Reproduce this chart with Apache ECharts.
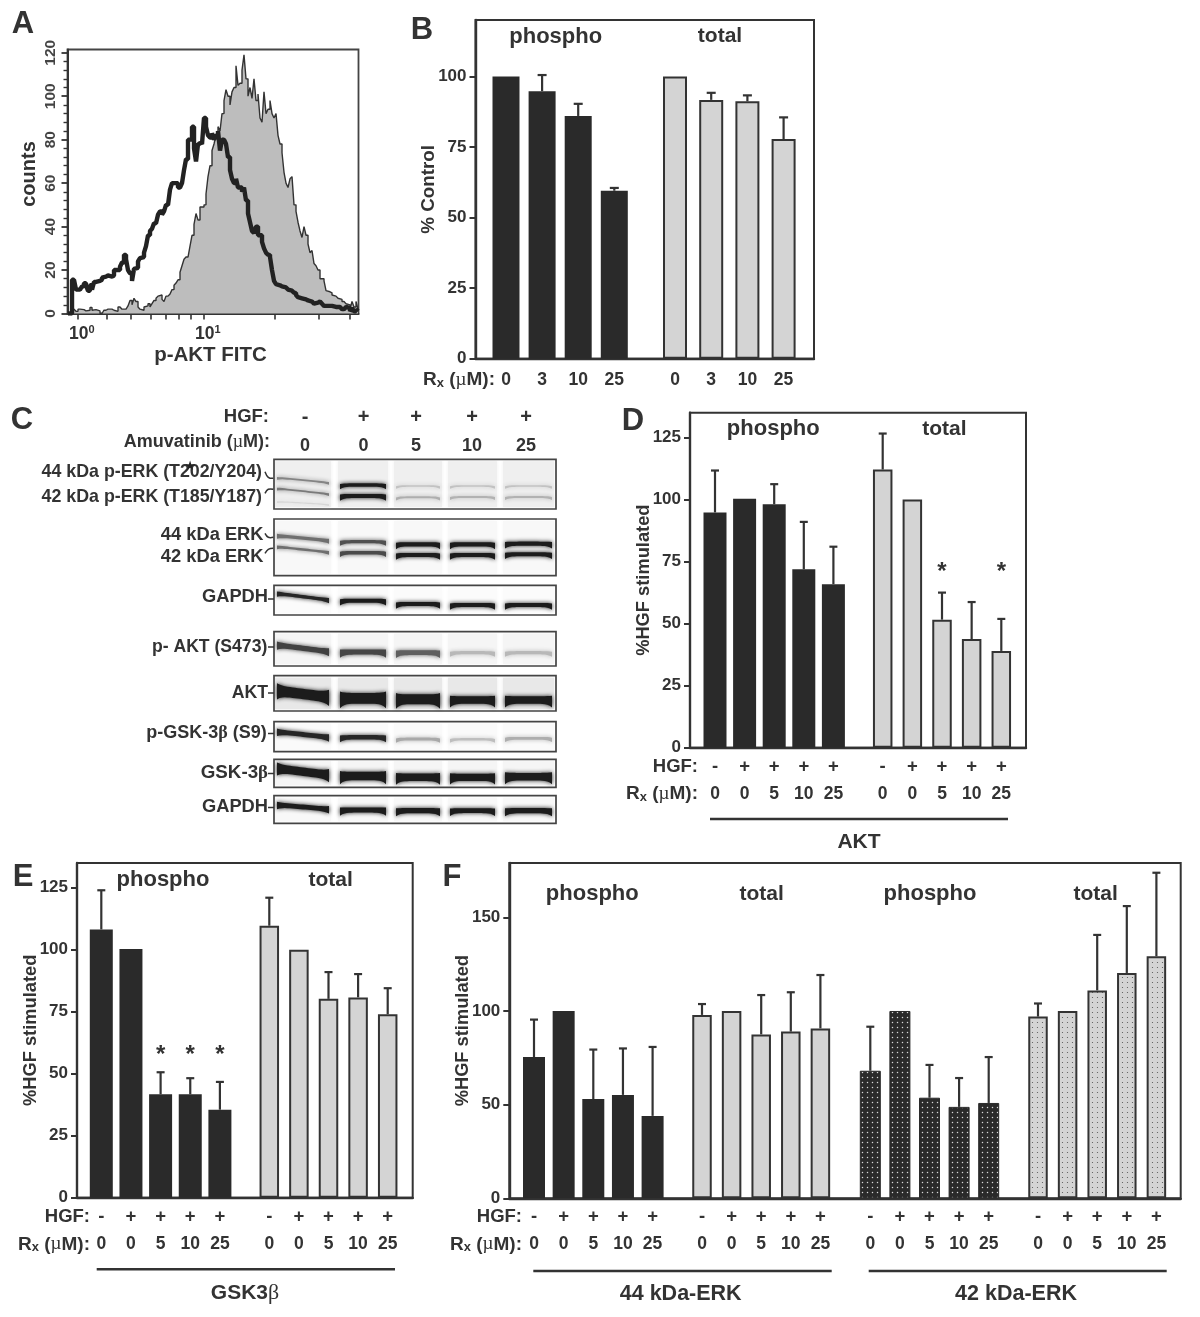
<!DOCTYPE html>
<html><head><meta charset="utf-8">
<script src="https://cdn.jsdelivr.net/npm/echarts@6/dist/echarts.min.js"></script>
<style>html,body{margin:0;padding:0;background:#fff}#main{width:1200px;height:1317px}</style>
</head><body><div id="main"></div>
<script>
// ---------- Panel A: histogram counts ----------
const isotypeCounts = [0,0,2,1.5,1,2,1.2,1.8,1.2,1.5,
1.5,2.8,1.5,1.8,1,1.2,0,0.3,1.5,2,
1.5,2,1.5,0.8,1,3,2.5,2,2,2.3,
3.5,6,4,7,5.5,3,2,1.5,3,3.5,
4.5,3,4.5,6,7,8,8.5,6.5,5.5,8,
7.5,9,11,13,14,15.5,19,22,25,26,
26,31,36,41,46,43,49,49,50,55,
63,68,75,78,82,86,84,92,98,103,
100,96,102,104,114,105,106,112,119,108,
100,104,99,108,98,101,90,88,102,92,
94,98,92,90,92,82,78,74,65,60,
58,62,63,50,47,42,38,35,40,36,
32,28,29,23,22,20,16,16,15,10.5,
10,9.5,8.5,8,8,7,6.5,5.5,5,4.5,
4,2,5.5,3,5.5,2];
const treatedCounts = [0,0,15.5,15,11,11,11,12.5,14,13,
10.5,13,11,14.5,14.5,15,15.5,16.5,17,17.5,
17.5,17,17.5,20,20,20,21.5,23.5,27,25,
20,18.5,15,20.5,21,24,25.5,26,28,31,
36,38,39,41.5,42,45.5,47,45.5,47,50,
50,57,60,60.5,60,58,58,60,66,71,
80,80,86,76,70,78,79,78,90,86,
82,81,83,80,82,84,75,80,80,78,
72,66,62,60,62,58,58,56,58,52,
46,42,38,37,40,36,36,33,30,28,
27,26,20,15,13.5,13,12.5,13,12,12,
11,10.5,10,9.5,8.5,7.5,7,7.5,6.5,6,
6.5,5.5,5,4.5,5,5.5,5.5,4.5,3.5,3.5,
3,3.5,3.5,3,3.5,3,3,2,2,3,
2.5,1,2.5,1,2,1];
const countTicks = [0,20,40,60,80,100,120];
const countMinorTicks = [4,8,12,16,24,28,32,36,44,48,52,56,64,68,72,76,84,88,92,96,104,108,112,116];
const fitcLabels = [1,10];
const fitcTicks = [1,1.71,2.65,3.82,5,6.4,8,10,37,82,144];

// ---------- Panel B ----------
const bDose = ['0','3','10','25'];
const bPhospho = [100,94.8,86,59.5];
const bPhosphoTop = [null,100.5,90.3,60.5];
const bTotal = [100,91.7,91.2,77.8];
const bTotalTop = [null,94.2,93.3,85.5];
const bTicks = [0,25,50,75,100];

// ---------- Shared category rows for D, E, F ----------
const hgfRow = ['-','+','+','+','+'];
const doseRow = ['0','0','5','10','25'];
const hgfTicks = [0,25,50,75,100,125];
const erkTicks = [0,50,100,150];

// ---------- Panel D (AKT) ----------
const dPhospho = [94.8,100.3,98.1,71.9,65.9];
const dPhosphoTop = [111.7,null,106.2,91,81];
const dTotal = [112.1,100,51.6,43.8,39];
const dTotalTop = [126.6,null,62.5,58.7,51.9];
const dStars = [null,null,72.5,null,72.5];

// ---------- Panel E (GSK3b) ----------
const ePhospho = [108.2,100.3,41.7,41.7,35.5];
const ePhosphoTop = [124,null,50.6,48.2,46.7];
const eTotal = [109.7,100,80.2,80.8,74];
const eTotalTop = [121,null,91,90.2,84.5];
const eStars = [null,null,59.6,59.6,59.6];

// ---------- Panel F (ERK) ----------
const f44Phospho = [75.4,100,53,55.2,44];
const f44PhosphoTop = [95.4,null,79.4,80,80.8];
const f44Total = [97.9,100,87.5,89,90.7];
const f44TotalTop = [103.7,null,108.5,110,119.2];
const f42Phospho = [68.1,100,53.7,48.8,50.9];
const f42PhosphoTop = [91.6,null,71.2,64.2,75.4];
const f42Total = [97,100,111,120.3,129.2];
const f42TotalTop = [104,null,140.6,156,173.8];

// ---------- Panel C: band intensities per lane (0..1) ----------
const pErk44Level = [0.5,1,0.2,0.2,0.2];
const pErk42Level = [0.55,1,0.3,0.28,0.28];
const pErkFaint = [0.1,0,0,0,0];
const erk44Level = [0.6,0.75,1,1,1];
const erk42Level = [0.6,0.78,1,1,1];
const gapdhLevel = [0.95,1,1,1,1];
const pAktLevel = [0.82,0.8,0.68,0.25,0.25];
const aktLevel = [1,1,1,1,1];
const pGskLevel = [0.95,0.95,0.32,0.22,0.3];
const gskLevel = [1,1,1,1,1];
const gapdh2Level = [1,1,1,1,1];
const cHgf = ['-','+','+','+','+'];
const cDose = ['0','0','5','10','25'];

// ---------- Look and layout ----------
const INK = '#333';
const DARK = '#2a2a2a';
const LIGHT = '#d4d4d4';
const F = '"Liberation Sans"';
const grids = [], xAxes = [], yAxes = [], series = [], gfx = [];

function txt(x, y, text, size, o) {
  o = o || {};
  gfx.push({type:'text', silent:true, x:x, y:y, rotation:o.rot||0, z:50,
    style:{text:text, fontFamily:o.family||F, fontWeight:o.weight||'bold', fontSize:size, fill:o.fill||INK,
      textAlign:o.align||'center', textVerticalAlign:'middle', rich:o.rich}});
}
function rxLabel(x, y, size) {
  const b = {fontFamily:F, fontWeight:'bold', fontSize:size, fill:INK};
  txt(x, y, '{n|R}{s|x}{n| (}{g|µ}{n|M):}', size, {align:'right', rich:{
    n:b,
    s:{fontFamily:F, fontWeight:'bold', fontSize:size*0.68, fill:INK, padding:[7,0,0,0]},
    g:{fontFamily:'"Liberation Serif"', fontSize:size, fill:INK}
  }});
}
function poly(points, w) {
  gfx.push({type:'polyline', silent:true, z:50, shape:{points:points, smooth:0.4},
    style:{stroke:INK, lineWidth:w||1.5, fill:null}});
}
function dotted(bg, dot, r) {
  const c = document.createElement('canvas');
  c.width = 5; c.height = 5;
  const g = c.getContext('2d');
  g.fillStyle = bg; g.fillRect(0,0,5,5);
  g.fillStyle = dot; g.beginPath(); g.arc(2.5,2.5,r,0,7); g.fill();
  return {image:c, repeat:'repeat'};
}
const tStyle = {color:INK, width:2};

function errorSeries(xi, yi, values, tops, capHalf) {
  const rows = [];
  values.forEach(function(v,i){ if (tops[i] != null) rows.push([i,v,tops[i]]); });
  return {type:'custom', xAxisIndex:xi, yAxisIndex:yi, data:rows, z:4, silent:true, clip:false,
    encode:{x:0,y:[1,2]},
    renderItem:function(p,api){
      const a = api.coord([api.value(0),api.value(1)]), b = api.coord([api.value(0),api.value(2)]);
      const st = {stroke:INK, lineWidth:2.2};
      return {type:'group', children:[
        {type:'line', shape:{x1:a[0],y1:a[1],x2:b[0],y2:b[1]}, style:st},
        {type:'line', shape:{x1:b[0]-capHalf,y1:b[1],x2:b[0]+capHalf,y2:b[1]}, style:st}
      ]};
    }};
}
function starSeries(xi, yi, stars) {
  const rows = [];
  stars.forEach(function(v,i){ if (v != null) rows.push([i,v]); });
  return {type:'custom', xAxisIndex:xi, yAxisIndex:yi, data:rows, z:5, silent:true, clip:false,
    encode:{x:0,y:1},
    renderItem:function(p,api){
      const a = api.coord([api.value(0),api.value(1)]);
      return {type:'text', style:{text:'*', x:a[0], y:a[1]+5, fontFamily:F, fontWeight:'bold', fontSize:24, fill:INK, textAlign:'center', textVerticalAlign:'middle'}};
    }};
}
function panel(c) {
  const g = grids.length;
  grids.push({left:c.l, top:c.t, width:c.r-c.l, height:c.b-c.t, show:true, borderColor:INK, borderWidth:2, backgroundColor:'transparent'});
  xAxes.push({gridIndex:g, type:'value', min:0, max:1, axisLabel:{show:false}, axisTick:{show:false}, splitLine:{show:false},
    axisLine:{show:true, onZero:false, lineStyle:{color:INK, width:2.4}}});
  yAxes.push({gridIndex:g, type:'value', min:0, max:c.max, name:c.yName, nameLocation:'middle', nameGap:37, nameMoveOverlap:false,
    nameTextStyle:{fontFamily:F, fontWeight:'bold', fontSize:c.nameSize||18.3, color:INK},
    splitLine:{show:false}, axisLine:{show:true, onZero:false, lineStyle:{color:INK, width:2.4}},
    axisTick:{show:true, length:6, customValues:c.ticks, lineStyle:tStyle},
    axisLabel:{customValues:c.ticks, margin:9, fontFamily:F, fontWeight:'bold', fontSize:17, color:INK}});
  c.groups.forEach(function(gr){
    const n = gr.values.length, gi = grids.length;
    const left = gr.c0 - gr.sp/2;
    grids.push({left:left, top:c.t, width:gr.sp*n, height:c.b-c.t, show:false});
    const xi = xAxes.length, yi = yAxes.length;
    const lab = function(margin, size){ return {show:true, interval:0, margin:margin, verticalAlign:'middle', fontFamily:F, fontWeight:'bold', fontSize:size, color:INK}; };
    xAxes.push({gridIndex:gi, type:'category', data:gr.dose, position:'bottom', axisLine:{show:false}, axisTick:{show:false}, axisLabel:lab(c.rxY-c.b,17.5)});
    yAxes.push({gridIndex:gi, type:'value', min:0, max:c.max, show:false, splitLine:{show:false}});
    if (c.hgfY) {
      xAxes.push({gridIndex:gi, type:'category', data:gr.hgf, position:'bottom', axisLine:{show:false}, axisTick:{show:false}, axisLabel:lab(c.hgfY-c.b,18.5)});
    }
    series.push({type:'bar', xAxisIndex:xi, yAxisIndex:yi, data:gr.values, barWidth:gr.barW, silent:true, z:3, itemStyle:gr.style});
    series.push(errorSeries(xi, yi, gr.values, gr.tops, c.cap||4));
    if (gr.stars) series.push(starSeries(xi, yi, gr.stars));
  });
}

const darkStyle = {color:DARK};
const lightStyle = {color:LIGHT, borderColor:INK, borderWidth:2};
const darkDots = {color:dotted(DARK,'#d8d8d8',0.75), borderColor:DARK, borderWidth:1};
const lightDots = {color:dotted(LIGHT,'#555',0.6), borderColor:INK, borderWidth:2};

// ---------- B ----------
panel({l:475.5,t:20,r:814,b:358.7,max:120,ticks:bTicks,yName:'% Control',nameSize:18.8,rxY:380,cap:4.5,groups:[
  {c0:506,sp:36.1,barW:27,values:bPhospho,tops:bPhosphoTop,dose:bDose,style:darkStyle},
  {c0:675,sp:36.2,barW:24,values:bTotal,tops:bTotalTop,dose:bDose,style:lightStyle}]});
// ---------- D ----------
panel({l:690,t:412.7,r:1026,b:747.7,max:135,ticks:hgfTicks,yName:'%HGF stimulated',rxY:794,hgfY:766.7,groups:[
  {c0:715,sp:29.6,barW:23,values:dPhospho,tops:dPhosphoTop,dose:doseRow,hgf:hgfRow,stars:null,style:darkStyle},
  {c0:882.7,sp:29.65,barW:19.5,values:dTotal,tops:dTotalTop,dose:doseRow,hgf:hgfRow,stars:dStars,style:lightStyle}]});
// ---------- E ----------
panel({l:77,t:863,r:412.7,b:1197.7,max:135,ticks:hgfTicks,yName:'%HGF stimulated',rxY:1244.3,hgfY:1216.7,groups:[
  {c0:101.3,sp:29.65,barW:23,values:ePhospho,tops:ePhosphoTop,dose:doseRow,hgf:hgfRow,stars:eStars,style:darkStyle},
  {c0:269.3,sp:29.6,barW:19.5,values:eTotal,tops:eTotalTop,dose:doseRow,hgf:hgfRow,style:lightStyle}]});
// ---------- F ----------
panel({l:509.3,t:863,r:1180.7,b:1198.3,max:179,ticks:erkTicks,yName:'%HGF stimulated',rxY:1244.3,hgfY:1216.7,groups:[
  {c0:534,sp:29.65,barW:22,values:f44Phospho,tops:f44PhosphoTop,dose:doseRow,hgf:hgfRow,style:darkStyle},
  {c0:702,sp:29.6,barW:19.5,values:f44Total,tops:f44TotalTop,dose:doseRow,hgf:hgfRow,style:lightStyle},
  {c0:870.3,sp:29.6,barW:21,values:f42Phospho,tops:f42PhosphoTop,dose:doseRow,hgf:hgfRow,style:darkDots},
  {c0:1038,sp:29.6,barW:19.5,values:f42Total,tops:f42TotalTop,dose:doseRow,hgf:hgfRow,style:lightDots}]});

// ---------- A ----------
(function(){
  const g = grids.length;
  grids.push({left:67.5, top:49.5, width:291, height:264, show:true, borderColor:'#444', borderWidth:1.8});
  const xMin = 0.836, xMax = 170.5, yMax = 121.5;
  const xi = xAxes.length, yi = yAxes.length;
  const bins = isotypeCounts.map(function(_,i){ return Math.pow(10, -0.0738 + i*2/126); });
  xAxes.push({gridIndex:g, type:'log', logBase:10, min:xMin, max:xMax, splitLine:{show:false},
    axisLine:{show:true, onZero:false, lineStyle:{color:INK, width:2}},
    axisTick:{show:true, length:6, customValues:fitcTicks, lineStyle:{color:INK,width:1.6}},
    minorTick:{show:false},
    axisLabel:{customValues:fitcLabels, margin:11, padding:[0,0,0,9], formatter:function(v){ return '{b|10}{s|'+(v>=10?'1':'0')+'}'; },
      rich:{b:{fontFamily:F,fontWeight:'bold',fontSize:17.5,color:INK},
            s:{fontFamily:F,fontWeight:'bold',fontSize:11,color:INK,padding:[0,0,8,0]}}}});
  yAxes.push({gridIndex:g, type:'value', min:0, max:yMax, position:'left', splitLine:{show:false},
    axisLine:{show:true, onZero:false, lineStyle:{color:INK, width:2}},
    axisTick:{show:true, length:6, customValues:countTicks, lineStyle:{color:INK,width:1.8}},
    axisLabel:{customValues:countTicks, rotate:90, margin:9, fontFamily:F, fontWeight:'bold', fontSize:15.5, color:'#444'}});
  yAxes.push({gridIndex:g, type:'value', min:0, max:yMax, position:'left', splitLine:{show:false},
    axisLine:{show:false}, axisLabel:{show:false},
    axisTick:{show:true, length:4, customValues:countMinorTicks, lineStyle:{color:INK,width:1.4}}});
  series.push({type:'line', xAxisIndex:xi, yAxisIndex:yi, step:'end', showSymbol:false, silent:true, z:2,
    data:isotypeCounts.map(function(v,i){return [bins[i],v];}),
    lineStyle:{color:'#333',width:1.4}, areaStyle:{color:'#bdbdbd',opacity:1}});
  series.push({type:'line', xAxisIndex:xi, yAxisIndex:yi, step:'end', showSymbol:false, silent:true, z:3,
    data:treatedCounts.map(function(v,i){return [bins[i],v];}),
    lineStyle:{color:'#222',width:4.4,join:'bevel'}});
})();

// ---------- C: gel blots, one value grid in gel coordinates ----------
const laneCentre = [303,363,418,472.5,528.5];
const laneHalf = [26,23,22,22.5,23.5];
const blotBoxes = [
  {t:459.3,b:509,  patch:'#efefef'},
  {t:519,  b:575.7,patch:'#f8f8f8'},
  {t:585.3,b:615,  patch:'#fbfbfb'},
  {t:631.7,b:666,  patch:'#f5f5f5'},
  {t:675.7,b:711,  patch:'#e8e8e8'},
  {t:721.7,b:751.7,patch:'#fafafa'},
  {t:759.3,b:787.3,patch:'#f5f5f5'},
  {t:795.7,b:823.3,patch:'#f8f8f8'}];
const bandTable = [
  {lv:pErk44Level, y:[480.2,485,486,486,486],     th:[2.2,4.2,2,2,2], tilt:[2.5,0,0,0,0]},
  {lv:pErk42Level, y:[491.2,496,497.3,497,497],   th:[2.2,5,2.4,2.4,2.4], tilt:[2.8,0,0,0,0]},
  {lv:pErkFaint,   y:[503,503,503,503,503],       th:[1.5,1,1,1,1], tilt:[1.5,0,0,0,0]},
  {lv:erk44Level,  y:[538.2,541.7,544.3,544.3,543.7], th:[4,4,5.2,5.2,5.2], tilt:[2.5,0,0,0,0]},
  {lv:erk42Level,  y:[549.5,552.7,555,555,554.3], th:[3,4.2,5,5,5], tilt:[2.8,0,0,0,0]},
  {lv:gapdhLevel,  y:[596.7,600.7,604,605,605],   th:[4.2,5,5,5,5], tilt:[3.3,0,0,0,0]},
  {lv:pAktLevel,   y:[648.3,652,652.7,652.7,652.7], th:[6.5,6.5,6,4,4], tilt:[3.3,0,0,0,0]},
  {lv:aktLevel,    y:[694,698.3,699.3,700,700],   th:[13,13.5,12.5,9.5,9.5], tilt:[3.3,0,0,0,0]},
  {lv:pGskLevel,   y:[734.5,737.3,739,739.3,738.3], th:[6,5.5,3.5,3,3.5], tilt:[2.8,0,0,0,0]},
  {lv:gskLevel,    y:[771.7,776,777.3,777.3,776.7], th:[10.5,10.5,9.5,9,9.5], tilt:[3.3,0,0,0,0]},
  {lv:gapdh2Level, y:[807,810,810.7,810.7,810.7], th:[6,6.5,6.5,6,6.5], tilt:[2.2,0,0,0,0]}];
(function(){
  const g = grids.length, xi = xAxes.length, yi = yAxes.length;
  grids.push({left:274, top:459, width:282, height:366, show:false});
  xAxes.push({gridIndex:g, type:'value', min:274, max:556, show:false, splitLine:{show:false}});
  yAxes.push({gridIndex:g, type:'value', min:459, max:825, inverse:true, show:false, splitLine:{show:false}});
  const boxRows = blotBoxes.map(function(b,i){ return [i,b.t,b.b]; });
  series.push({type:'custom', xAxisIndex:xi, yAxisIndex:yi, data:boxRows, silent:true, z:1, clip:false,
    encode:{x:0,y:[1,2]},
    renderItem:function(p,api){
      const i = api.value(0), t = api.value(1), b = api.value(2);
      const a = api.coord([274,t]), c = api.coord([556,b]);
      const patch = blotBoxes[i].patch;
      const kids = laneCentre.map(function(cx,k){
        const l = api.coord([cx-laneHalf[k]-2,t]), r = api.coord([cx+laneHalf[k]+2,b]);
        return {type:'rect', shape:{x:l[0],y:l[1]+2,width:r[0]-l[0],height:r[1]-l[1]-4}, style:{fill:patch, shadowBlur:4, shadowColor:patch}};
      });
      kids.push({type:'rect', shape:{x:a[0],y:a[1],width:c[0]-a[0],height:c[1]-a[1]}, style:{fill:null,stroke:'#444',lineWidth:1.7}});
      return {type:'group', children:kids};
    }});
  const bandRows = [];
  bandTable.forEach(function(b,bi){ b.lv.forEach(function(v,k){ if (v>0) bandRows.push([k,b.y[k],v,bi]); }); });
  series.push({type:'custom', xAxisIndex:xi, yAxisIndex:yi, data:bandRows, silent:true, z:2, clip:false,
    encode:{x:0,y:1},
    renderItem:function(p,api){
      const k = api.value(0), y = api.value(1), lv = api.value(2), bt = bandTable[api.value(3)];
      const th = bt.th[k], tilt = bt.tilt[k], hw = laneHalf[k], cx = laneCentre[k];
      const top = [], bot = [];
      const smile = tilt>0 ? 0.6 : 1.6;
      for (let s=-1; s<=1.001; s+=0.1) {
        const e = Math.pow(Math.abs(s),6);
        const yc = y + tilt*s + smile*e;
        const h = th/2*(0.8+0.45*e);
        const pt = api.coord([cx+hw*s, yc-h]), pb = api.coord([cx+hw*s, yc+h]);
        top.push(pt); bot.unshift(pb);
      }
      const gray = Math.round(236-208*lv);
      const col = 'rgb('+gray+','+gray+','+gray+')';
      return {type:'polygon', shape:{points:top.concat(bot)}, style:{fill:col, shadowBlur:4, shadowColor:col}};
    }});
})();

// ---------- Text ----------
txt(23,24,'A',31); txt(422,30,'B',31); txt(22,420,'C',31); txt(633,421,'D',31); txt(23,877,'E',31); txt(452,877,'F',31);
// A
txt(29.5,174,'counts',20,{rot:Math.PI/2});
txt(210.5,355,'p-AKT FITC',20.5);
// group headings
[[555.7,36.7],[773.3,429.3],[163,880],[592.3,894],[930,894]].forEach(function(h){ txt(h[0],h[1],'phospho',22); });
[[720,36.7],[944.3,429.3],[330.7,880],[761.7,894],[1095.7,894]].forEach(function(h){ txt(h[0],h[1],'total',21); });
// row captions
rxLabel(495,380,19);
txt(698,766.7,'HGF:',18.5,{align:'right'}); rxLabel(698,794,19);
txt(90,1216.7,'HGF:',18.5,{align:'right'}); rxLabel(90,1244.3,19);
txt(522,1216.7,'HGF:',18.5,{align:'right'}); rxLabel(522,1244.3,19);
// underlines and captions
[[710,1008,819],[96.7,395,1269.3],[533.3,831.7,1271],[868.7,1166.7,1271]].forEach(function(u){
  gfx.push({type:'line', silent:true, z:50, shape:{x1:u[0],y1:u[2],x2:u[1],y2:u[2]}, style:{stroke:INK,lineWidth:2.4}});
});
txt(859,842,'AKT',21);
txt(245,1293,'{a|GSK3}{b|β}',21,{rich:{a:{fontFamily:F,fontWeight:'bold',fontSize:21,fill:INK},b:{fontFamily:'"Liberation Serif"',fontSize:22,fill:INK}}});
txt(680.7,1294,'44 kDa-ERK',21.5);
txt(1016,1294,'42 kDa-ERK',21.5);
// C headers
const laneText = [305,363.5,416,472,526];
cHgf.forEach(function(v,i){ txt(laneText[i],417,v,20); });
cDose.forEach(function(v,i){ txt(laneText[i],446.5,v,18); });
txt(269,416.7,'HGF:',18.5,{align:'right'});
txt(270,442.3,'{a|Amuvatinib (}{g|µ}{a|M):}',18,{align:'right',rich:{a:{fontFamily:F,fontWeight:'bold',fontSize:18,fill:INK},g:{fontFamily:'"Liberation Serif"',fontSize:18,fill:INK}}});
txt(262,471.7,'44 kDa p-ERK (T202/Y204)',17.8,{align:'right'});
txt(262,496.7,'42 kDa p-ERK (T185/Y187)',17.8,{align:'right'});
txt(190,466.5,'★',13,{weight:'normal',family:'"DejaVu Sans"',fill:'#222'});
txt(263.5,535,'44 kDa ERK',18.3,{align:'right'});
txt(263.5,556.7,'42 kDa ERK',18.3,{align:'right'});
txt(268,597,'GAPDH',18.3,{align:'right'});
txt(267.3,646.7,'p- AKT (S473)',17.6,{align:'right'});
txt(268,692.7,'AKT',17.7,{align:'right'});
txt(266.7,733.3,'{a|p-GSK-3}{b|β}{a| (S9)}',18,{align:'right',rich:{a:{fontFamily:F,fontWeight:'bold',fontSize:18,fill:INK},b:{fontFamily:'"Liberation Serif"',fontWeight:'bold',fontSize:18,fill:INK}}});
txt(268,773.3,'{a|GSK-3}{b|β}',18.8,{align:'right',rich:{a:{fontFamily:F,fontWeight:'bold',fontSize:18.8,fill:INK},b:{fontFamily:'"Liberation Serif"',fontWeight:'bold',fontSize:18.8,fill:INK}}});
txt(268,807.3,'GAPDH',18.3,{align:'right'});
// connectors
poly([[265,471.7],[268.3,477.3],[273.3,478.3]]);
poly([[265,493.3],[268.3,489.3],[273.3,489.3]]);
poly([[265,533.3],[268.3,537.3],[273.3,537.3]]);
poly([[265,553.3],[268.3,549.3],[273.3,548.3]]);
[599,647,693,733.5,773.5,807.5].forEach(function(y){ poly([[268,y],[274,y]]); });

const chart = echarts.init(document.getElementById('main'), null, {renderer:'canvas'});
chart.setOption({animation:false, backgroundColor:'#fff', grid:grids, xAxis:xAxes, yAxis:yAxes, series:series, graphic:{elements:gfx}});
</script>
</body></html>
